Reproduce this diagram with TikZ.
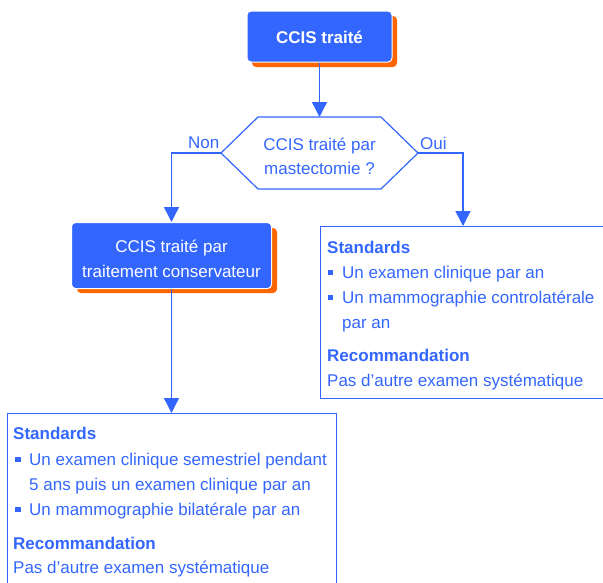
\documentclass[tikz,border=0pt]{standalone}
\usepackage{fontspec}
\setmainfont{Liberation Sans}
\usetikzlibrary{arrows.meta}
\definecolor{cblue}{HTML}{3366FF}
\definecolor{corange}{HTML}{FF6600}
\begin{document}
\begin{tikzpicture}[x=1pt,y=-1pt,
  every node/.style={font=\fontsize{17}{20}\selectfont, inner sep=0pt},
  txt/.style={text=cblue, anchor=base west},
  hd/.style={txt, font=\fontsize{17}{20}\selectfont\bfseries},
  wtxt/.style={text=white, anchor=base},
  conn/.style={draw=cblue, line width=1.4pt, -{Triangle[width=15pt,length=15pt]}},
  bluebox/.style={draw=white, line width=1pt, fill=cblue, rounded corners=4pt},
  shadowbox/.style={fill=corange, rounded corners=4pt},
  frame/.style={draw=cblue, line width=1.4pt},
  bul/.style={fill=cblue, minimum size=5.5pt, inner sep=0pt}
]
\useasboundingbox (0,0) rectangle (603,582);

% top box
\fill[shadowbox] (252,16) rectangle (397,67);
\node[bluebox, minimum width=145pt, minimum height=51pt] (tbox) at (319.5,36.5) {};
\node[wtxt, font=\fontsize{17}{20}\selectfont\bfseries] (tboxt) at (319.5,43) {CCIS traité};

% hexagon
\coordinate (hexT) at (319.5,117);
\coordinate (hexL) at (221,153);
\coordinate (hexR) at (418,153);
\draw[cblue, line width=1.2pt, line join=miter] (258,117) -- (381,117) -- (hexR) -- (381,189) -- (258,189) -- (hexL) -- cycle;
\node[text=cblue, anchor=base] (hex1) at (319.5,150) {CCIS traité par};
\node[text=cblue, anchor=base] (hex2) at (319.5,174) {mastectomie ?};
\node[txt] (non) at (188,148) {Non};
\node[txt] (oui) at (420,149) {Oui};

% left box
\fill[shadowbox] (77,228) rectangle (277,293);
\node[bluebox, minimum width=200pt, minimum height=66pt] (lbox) at (171.5,255.5) {};
\node[wtxt] (lbox1) at (171.5,252) {CCIS traité par};
\node[wtxt] (lbox2) at (171.5,277) {traitement conservateur};

% right box
\node[frame, anchor=north west, minimum width=290pt, minimum height=172pt] (rbox) at (320,226) {};
\coordinate (rin) at (463,226);
\node[hd] (r1) at (327,253) {Standards};
\node[bul] (rb1) at (330.5,272.5) {};
\node[txt] (r2) at (342,278) {Un examen clinique par an};
\node[bul] (rb2) at (330.5,297.5) {};
\node[txt] (r3) at (342,303) {Un mammographie controlatérale};
\node[txt] (r4) at (342,328) {par an};
\node[hd] (r5) at (327,361) {Recommandation};
\node[txt] (r6) at (327,386) {Pas d’autre examen systématique};

% bottom box
\node[frame, anchor=north west, minimum width=329pt, minimum height=200pt] (bbox) at (7,413) {};
\node[hd] (b1) at (13,439) {Standards};
\node[bul] (bb1) at (18,459.5) {};
\node[txt] (b2) at (29,465) {Un examen clinique semestriel pendant};
\node[txt] (b3) at (29,490) {5 ans puis un examen clinique par an};
\node[bul] (bb2) at (18,509.5) {};
\node[txt] (b4) at (29,515) {Un mammographie bilatérale par an};
\node[hd] (b5) at (13,549) {Recommandation};
\node[txt] (b6) at (13,573) {Pas d’autre examen systématique};

% connectors
\draw[conn] (tbox.south) -- (hexT);
\draw[conn] (hexL) -| (lbox.north);
\draw[conn] (hexR) -| (rin);
\draw[conn] (lbox.south) -- (lbox.south |- bbox.north);
\end{tikzpicture}
\end{document}
